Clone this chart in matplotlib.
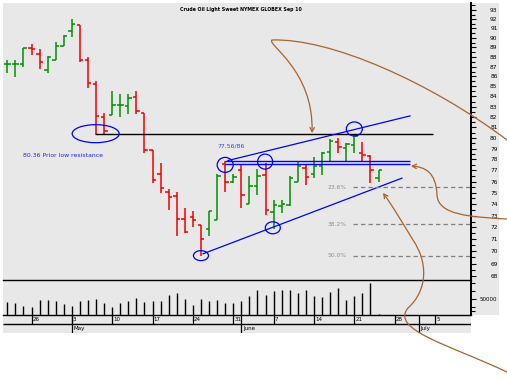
import matplotlib
matplotlib.use('Agg')
import matplotlib.pyplot as plt
import numpy as np
from matplotlib.patches import Rectangle, Ellipse, FancyArrowPatch
from matplotlib.path import Path
from matplotlib.ticker import FixedLocator, FixedFormatter, NullFormatter

# ---- data (trading days from Apr 21 to Jun 24) ----
opens = [87.3, 87.3, 87.3, 88.9, 88.3, 86.7, 87.7, 89.1, 90.7, 91.4,
         87.7, 85.2, 82.0, 82.2, 83.2, 83.1, 83.9, 82.4, 78.9, 76.7,
         75.1, 74.7, 72.7, 72.9, 72.2, 71.9, 72.6, 77.55, 76.0, 77.0,
         74.05, 75.6, 76.6, 73.3, 73.8, 73.9, 76.0, 77.2, 76.7, 77.4,
         78.7, 79.6, 79.1, 79.3, 78.6, 78.3, 76.3]
highs = [87.7, 87.7, 88.9, 89.35, 88.8, 88.05, 89.6, 90.3, 92.0, 91.4,
         88.0, 85.5, 82.4, 84.5, 84.2, 84.2, 84.5, 82.4, 78.9, 77.7,
         75.3, 75.1, 73.7, 73.4, 72.2, 73.4, 76.7, 77.86, 76.7, 77.6,
         76.5, 77.1, 77.65, 74.4, 74.4, 76.5, 77.9, 77.6, 78.2, 78.7,
         79.9, 80.0, 79.5, 80.4, 79.6, 78.4, 77.0]
lows = [86.4, 85.9, 87.0, 88.2, 86.8, 86.4, 87.7, 89.1, 90.1, 87.5,
        84.8, 80.36, 80.4, 82.2, 82.0, 82.3, 82.3, 78.6, 75.9, 74.96,
        73.5, 71.25, 71.5, 72.0, 69.6, 71.25, 72.6, 75.1, 75.9, 73.7,
        74.0, 74.8, 73.1, 71.9, 73.2, 73.8, 75.95, 75.7, 76.3, 76.6,
        77.9, 78.6, 77.8, 78.6, 77.9, 75.9, 76.0]
closes = [87.3, 87.3, 88.9, 88.8, 87.5, 88.0, 89.1, 90.2, 91.5, 87.7,
          85.3, 82.1, 80.7, 83.2, 83.2, 83.8, 82.6, 78.9, 76.1, 75.4,
          74.6, 72.7, 71.6, 72.6, 71.05, 73.4, 76.5, 76.0, 76.4, 74.8,
          75.6, 76.5, 73.45, 73.9, 74.0, 76.3, 77.4, 76.4, 77.4, 78.6,
          79.7, 79.15, 79.4, 80.2, 78.45, 77.0, 77.0]
up_day = [1, 1, 1, 0, 0, 1, 1, 1, 1, 0,
          0, 0, 0, 1, 1, 1, 0, 0, 0, 0,
          0, 0, 0, 0, 0, 1, 1, 0, 1, 0,
          1, 1, 0, 1, 1, 1, 1, 0, 1, 1,
          1, 0, 1, 1, 0, 0, 1]
volume = [39600, 37500, 28100, 24000, 46900, 46900, 43800, 34400, 28100, 43800,
          46900, 50000, 37500, 25000, 37500, 43800, 53100, 40600, 43800, 43800,
          62500, 68800, 50000, 31300, 50000, 43800, 46900, 37500, 37500, 43800,
          59400, 78100, 62500, 75000, 78100, 78100, 68800, 78100, 59400, 56300,
          71900, 84400, 46900, 59400, 68800, 100000, 4000]

week_idx = [3, 8, 13, 18, 23, 28, 33, 38, 43, 48, 53]
week_labels = ['26', '3', '10', '17', '24', '31', '7', '14', '21', '28', '5']
month_idx = [8, 29, 51]
month_labels = ['May', 'June', 'July']

price_ticks = list(range(68, 94))
resistance = 80.36
double_top = [77.86, 77.56]
fib_levels = [75.5, 72.25, 69.65]
fib_labels = ['23.6%', '38.2%', '50.0%']
upper_trend = ([27.35, 49.9], [77.9, 82.1])
lower_trend = ([24.25, 48.9], [69.8, 76.3])
# circled points: (day index, price, width px, height px)
circles = [(10.95, 80.4, 47, 18), (24, 69.65, 15, 10), (27, 77.5, 16, 15),
           (31.95, 77.8, 15, 15), (32.9, 71.97, 15, 12), (43, 80.85, 16, 14)]

W, H = 507, 381
GRAY = '#e8e8e8'
GREEN = '#009000'
RED = '#f00000'
BLUE = '#0000ff'
BROWN = '#a8642c'

fig = plt.figure(figsize=(W / 100, H / 100), dpi=100)
fig.patch.set_facecolor('white')


def px_axes(x0, y0, x1, y1):
    return fig.add_axes([x0 / W, 1 - y1 / H, (x1 - x0) / W, (y1 - y0) / H])


fig.add_artist(Rectangle((3 / W, 1 - 315 / H), 496 / W, 312 / H, transform=fig.transFigure,
                         color=GRAY, lw=0, zorder=-5))
fig.add_artist(Rectangle((3 / W, 1 - 333 / H), 468 / W, 18 / H, transform=fig.transFigure,
                         color=GRAY, lw=0, zorder=-5))

XLIM = (-0.533, 57.46)
idx = np.arange(len(opens))
cols = [GREEN if u else RED for u in up_day]

# ---- price panel ----
ax = px_axes(3, 3, 471, 280)
ax.set_facecolor('none')
ax.set_xlim(*XLIM)
ax.set_yscale('log')
ax.set_ylim(67.68, 93.77)
for s in ['top', 'left']:
    ax.spines[s].set_visible(False)
ax.spines['right'].set_linewidth(1.4)
ax.spines['bottom'].set_linewidth(1.0)
ax.set_xticks([])
ax.yaxis.tick_right()
ax.yaxis.set_major_locator(FixedLocator(price_ticks))
ax.yaxis.set_major_formatter(FixedFormatter([str(t) for t in price_ticks]))
ax.yaxis.set_minor_locator(FixedLocator([t + 0.5 for t in price_ticks]))
ax.yaxis.set_minor_formatter(NullFormatter())
ax.tick_params(axis='y', which='major', length=3.6, width=0.8, pad=15.5, labelsize=4.2)
ax.tick_params(axis='y', which='minor', length=2.6, width=0.8)
for lb in ax.get_yticklabels():
    lb.set_horizontalalignment('right')

ax.vlines(idx, lows, highs, colors=cols, lw=1.1)
ax.hlines(opens, idx - 0.42, idx, colors=cols, lw=1.1)
ax.hlines(closes, idx, idx + 0.42, colors=cols, lw=1.1)

ax.hlines(resistance, 10.9, 52.75, colors='black', lw=1.0)
ax.hlines(double_top, 27.0, 49.9, colors=BLUE, lw=1.0)
ax.plot(*upper_trend, color=BLUE, lw=0.9)
ax.plot(*lower_trend, color=BLUE, lw=0.9)
ax.hlines(fib_levels, 42.8, XLIM[1], colors='#808080', lw=0.9, linestyles=(0, (3.5, 2.5)))
for lv, lb in zip(fib_levels, fib_labels):
    ax.text(39.7, lv, lb, fontsize=4.3, color='#8c8c8c', va='center', ha='left')
ax.text(1.95, 78.4, '80.36 Prior low resistance', fontsize=4.4, color='#2020ff', va='center')
ax.text(26.0, 79.25, '77.56/86', fontsize=4.4, color='#3a3aff', va='center')
ax.text(29.0, 93.1, 'Crude Oil Light Sweet NYMEX GLOBEX Sep 10', fontsize=3.4,
        fontweight='bold', ha='center', va='center')

# ---- volume panel ----
axv = px_axes(3, 280, 471, 315)
axv.set_facecolor('none')
axv.set_xlim(*XLIM)
axv.set_ylim(0, 109375)
for s in ['top', 'left']:
    axv.spines[s].set_visible(False)
axv.spines['right'].set_linewidth(1.4)
axv.spines['bottom'].set_linewidth(1.0)
axv.set_xticks([])
axv.yaxis.tick_right()
axv.yaxis.set_major_locator(FixedLocator([50000]))
axv.yaxis.set_major_formatter(FixedFormatter(['50000']))
axv.yaxis.set_minor_locator(FixedLocator([12500, 25000, 75000, 100000]))
axv.tick_params(axis='y', which='major', length=3.6, width=0.8, pad=15.5, labelsize=4.0)
axv.tick_params(axis='y', which='minor', length=2.6, width=0.8)
for lb in axv.get_yticklabels():
    lb.set_horizontalalignment('right')
axv.vlines(idx, 0, volume, colors='black', lw=1.0)

# ---- date rows ----
axd = px_axes(3, 315, 471, 333)
axd.set_facecolor('none')
axd.set_xlim(*XLIM)
axd.set_ylim(2, 0)
axd.axis('off')
axd.hlines(1, XLIM[0], XLIM[1], colors='black', lw=1.0)
axd.vlines(week_idx, 0, 1, colors='black', lw=0.9)
axd.vlines(month_idx, 0, 2, colors='black', lw=0.9)
for i, lb in zip(week_idx, week_labels):
    axd.text(i + 0.15, 0.55, lb, fontsize=4.0, va='center', ha='left')
for i, lb in zip(month_idx, month_labels):
    axd.text(i + 0.2, 1.55, lb, fontsize=4.0, va='center', ha='left')

# ---- overlay in pixel coordinates (circles and hand-drawn arrows) ----
fig.canvas.draw()
ov = fig.add_axes([0, 0, 1, 1], zorder=10)
ov.set_xlim(0, W)
ov.set_ylim(H, 0)
ov.axis('off')
ov.patch.set_alpha(0)

for ci, cp, cw, ch in circles:
    dx, dy = ax.transData.transform((ci, cp))
    ov.add_patch(Ellipse((dx, H - dy), cw, ch, fill=False, ec=BLUE, lw=0.9))

M, C = Path.MOVETO, Path.CURVE4
arrow_paths = [
    [(507, 140), (430, 82), (330, 38), (272, 40), (266, 44), (314, 70), (312, 133)],
    [(507, 219), (470, 217), (438, 215), (437, 195), (436, 172), (425, 167), (411, 166)],
    [(507, 372), (450, 345), (390, 330), (408, 308), (428, 290), (428, 262), (413, 240),
     (402, 222), (392, 205), (383, 193)],
]
for pts in arrow_paths:
    codes = [M] + [C] * (len(pts) - 1)
    ov.add_patch(FancyArrowPatch(path=Path(pts, codes), arrowstyle='->,head_length=3,head_width=1.6',
                                 color=BROWN, lw=0.9, mutation_scale=1))

fig.savefig('out.png', dpi=100)
